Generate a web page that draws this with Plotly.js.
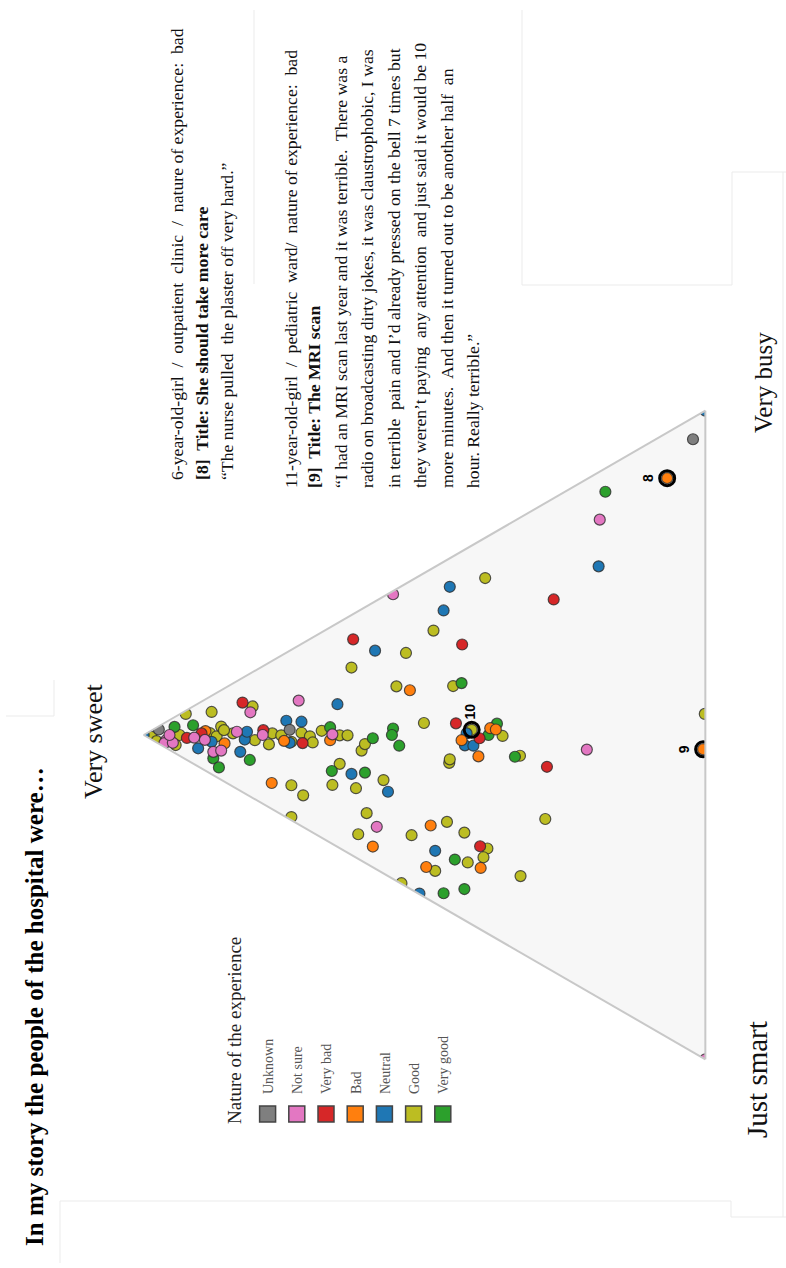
<!DOCTYPE html>
<html>
<head>
<meta charset="utf-8">
<script src="https://cdn.plot.ly/plotly-3.0.1.min.js"></script>
<style>
  html, body { margin: 0; padding: 0; background: #fff; overflow: hidden; width: 786px; height: 1268px; }
  /* the chart is laid out landscape and turned a quarter turn to read upwards */
  #chart { position: absolute; left: 0; top: 0; width: 1268px; height: 786px;
           transform-origin: 0 0; transform: translate(0px, 1268px) rotate(-90deg); }
</style>
</head>
<body>
<div id="chart"></div>
<script>
// ---- data: how the hospital people were described (sweet / smart / busy shares, %) ----
const categories = ['Unknown', 'Not sure', 'Very bad', 'Bad', 'Neutral', 'Good', 'Very good'];
const categoryColors = ['#7f7f7f', '#e377c2', '#d62728', '#ff7f0e', '#1f77b4', '#bcbd22', '#2ca02c'];

const unknownSweet = [97.3, 74.0, 2.2];
const unknownSmart = [0.5, 12.2, 3.3];
const unknownBusy  = [2.2, 13.8, 94.5];

const notSureSweet = [96.0, 96.3, 94.8, 95.4, 81.0, 72.4, 91.0, 89.1, 87.6, 86.2, 83.4, 78.8, 66.4, 55.6, 58.5, 18.8, 21.1, 0];
const notSureSmart = [2.8, 3.1, 3.8, 2.3, 6.0, 8.5, 4.9, 6.2, 8.8, 9.3, 7.8, 10.6, 16.7, 0.5, 34.9, 7.4, 41.7, 100];
const notSureBusy  = [1.2, 0.6, 1.4, 2.3, 13.0, 19.1, 4.1, 4.7, 3.6, 4.5, 8.8, 10.6, 16.9, 43.9, 6.6, 73.8, 37.2, 0];

const veryBadSweet = [92.3, 89.7, 82.4, 78.7, 71.7, 62.7, 43.3, 44.4, 40.2, 27.0, 28.2, 40.1];
const veryBadSmart = [4.3, 4.9, 3.8, 9.9, 15.4, 3.9, 14.4, 26.0, 30.4, 15.6, 40.8, 47.1];
const veryBadBusy  = [3.4, 5.4, 13.8, 11.4, 12.9, 33.4, 42.3, 29.6, 29.4, 57.4, 31.0, 12.8];

const badSweet = [89.0, 85.6, 75.0, 66.8, 77.2, 52.6, 59.2, 48.9, 49.7, 40.0, 43.4, 38.3, 37.3, 40.4, 6.8, 0.4];
const badSmart = [4.9, 8.5, 13.4, 17.4, 18.8, 16.8, 37.6, 39.5, 45.5, 50.5, 29.1, 29.8, 30.5, 33.1, 7.0, 52.0];
const badBusy  = [6.1, 5.9, 11.6, 15.8, 4.0, 30.6, 3.2, 11.6, 4.8, 9.5, 27.5, 31.9, 32.2, 26.5, 86.2, 47.6];

const neutralSweet = [100, 87.9, 90.3, 82.8, 82.0, 81.6, 74.6, 71.9, 74.0, 65.5, 63.0, 56.5, 58.8, 45.5, 46.6, 48.1, 50.9, 42.8, 41.3, 42.5, 19.0, 0];
const neutralSmart = [0, 7.1, 6.9, 11.2, 9.7, 8.7, 10.5, 12.0, 14.2, 12.5, 24.5, 30.5, 7.6, 4.4, 7.5, 43.8, 49.0, 30.2, 31.0, 28.5, 14.5, 0];
const neutralBusy  = [0, 5.0, 2.8, 6.0, 8.3, 9.7, 14.9, 16.1, 11.8, 22.0, 12.5, 13.0, 33.6, 50.1, 45.9, 8.1, 0.1, 27.0, 27.7, 29.0, 66.5, 100];

const goodSweet = [98.6, 93.6, 92.5, 87.9, 80.6, 88.2, 87.0, 86.2, 84.1, 80.2, 77.7, 77.1, 75.5, 73.7, 71.9, 70.4, 69.9, 68.3, 65.1, 63.7,
                   61.2, 60.6, 65.1, 73.7, 71.6, 66.4, 62.2, 73.7, 60.3, 61.8, 57.3, 63.0, 53.3, 55.0, 48.4, 44.9, 50.1, 39.2, 45.6, 52.3,
                   46.0, 42.9, 42.3, 38.8, 39.5, 48.1, 54.1, 28.5, 32.9, 45.5, 41.6, 36.1, 33.0, 0.1, 97.7, 94.3, 85.7];
const goodSmart = [1.0, 3.2, 0.5, 2.5, 5.3, 5.6, 6.7, 5.6, 7.7, 10.7, 12.6, 11.2, 12.3, 14.2, 13.7, 15.0, 16.2, 15.2, 17.5, 18.2,
                   21.8, 21.1, 21.9, 20.9, 23.5, 24.5, 27.1, 25.8, 31.9, 34.4, 28.3, 8.1, 10.7, 15.0, 9.7, 20.0, 23.1, 6.2, 31.5, 39.3,
                   40.4, 43.6, 48.5, 48.1, 49.1, 46.9, 45.8, 48.7, 55.3, 31.0, 28.4, 32.1, 36.7, 46.7, 2.1, 4.4, 6.4];
const goodBusy  = [0.4, 3.2, 7.0, 9.6, 14.1, 6.2, 6.3, 8.2, 8.2, 9.1, 9.7, 11.7, 12.2, 12.1, 14.4, 14.6, 13.9, 16.5, 17.4, 18.1,
                   17.0, 18.3, 13.0, 5.4, 4.9, 9.1, 10.7, 0.5, 7.8, 3.8, 14.4, 28.9, 36.0, 30.0, 41.9, 35.1, 26.8, 54.6, 22.9, 8.4,
                   13.6, 13.5, 9.2, 13.1, 11.4, 5.0, 0.1, 22.8, 11.8, 23.5, 30.0, 31.8, 30.3, 53.2, 0.2, 1.3, 7.9];

const veryGoodSweet = [94.5, 87.6, 86.6, 81.1, 66.8, 66.5, 60.6, 59.2, 55.6, 55.8, 54.5, 43.4, 37.1, 38.6, 33.9, 44.6, 46.6, 42.9, 17.8, 91.2];
const veryGoodSmart = [1.5, 9.8, 11.7, 13.3, 15.4, 22.3, 25.5, 20.9, 21.2, 22.1, 24.4, 20.3, 29.7, 30.7, 36.4, 46.9, 51.1, 52.3, 3.6, 2.9];
const veryGoodBusy  = [4.0, 2.6, 1.7, 5.6, 17.8, 11.2, 13.9, 19.9, 23.2, 22.1, 21.1, 36.3, 33.2, 30.7, 29.7, 8.5, 2.3, 4.8, 78.6, 5.9];

// stories quoted beside the chart
const storyIds   = ['8', '9', '10'];
const storySweet = [6.8, 0.4, 41.6];
const storySmart = [7.0, 52.0, 28.4];
const storyBusy  = [86.2, 47.6, 30.0];

const vertexLabels = ['Very sweet', 'Very busy', 'Just smart'];
const chartTitle = 'In my story the people of the hospital were…';
const legendTitle = 'Nature of the experience';

const story8Lines = [
  '6-year-old-girl  /  outpatient  clinic  /  nature of experience:  bad',
  '<b>[8]  Title: She should take more care</b>',
  '“The nurse pulled  the plaster off very hard.”'
];
const story9Lines = [
  '11-year-old-girl  /  pediatric  ward/  nature of experience:  bad',
  '<b>[9]  Title: The MRI scan</b>',
  '“I had an MRI scan last year and it was terrible.  There was a',
  'radio on broadcasting dirty jokes, it was claustrophobic, I was',
  'in terrible  pain and I’d already pressed on the bell 7 times but',
  'they weren’t paying  any attention  and just said it would be 10',
  'more minutes.  And then it turned out to be another half  an',
  'hour. Really terrible.”'
];

// ---- layout helpers: page pixel (x right, y down) -> paper coords of the turned frame ----
const W = 1268, H = 786;
function paperX(pageY) { return (W - pageY) / W; }
function paperY(pageX) { return 1 - pageX / H; }

const SERIF = '"Liberation Serif", "Times New Roman", serif';

const seriesByCategory = {
  'Unknown':   [unknownSweet, unknownSmart, unknownBusy],
  'Not sure':  [notSureSweet, notSureSmart, notSureBusy],
  'Very bad':  [veryBadSweet, veryBadSmart, veryBadBusy],
  'Bad':       [badSweet, badSmart, badBusy],
  'Neutral':   [neutralSweet, neutralSmart, neutralBusy],
  'Good':      [goodSweet, goodSmart, goodBusy],
  'Very good': [veryGoodSweet, veryGoodSmart, veryGoodBusy]
};

const traces = [];

// legend entries (square swatches, no points of their own)
categories.forEach((cat, i) => {
  traces.push({
    type: 'scatterternary', mode: 'markers', name: cat, legendgroup: cat, showlegend: true,
    a: [null], b: [null], c: [null],
    marker: { symbol: 'square', size: 16, color: categoryColors[i], line: { color: '#444', width: 1.5 } }
  });
});

// the stories, one dot each
const drawOrder = ['Good', 'Very good', 'Neutral', 'Bad', 'Very bad', 'Not sure', 'Unknown'];
drawOrder.forEach(cat => {
  const [sw, sm, bu] = seriesByCategory[cat];
  traces.push({
    type: 'scatterternary', mode: 'markers', name: cat, legendgroup: cat, showlegend: false,
    a: sw, b: sm, c: bu,
    marker: { symbol: 'circle', size: 11, color: categoryColors[categories.indexOf(cat)],
              line: { color: 'rgba(45,45,45,0.8)', width: 1.2 } }
  });
});

// highlighted stories
traces.push({
  type: 'scatterternary', mode: 'markers+text', showlegend: false,
  a: storySweet, b: storySmart, c: storyBusy,
  text: storyIds,
  textposition: ['top center', 'top center', 'middle right'],
  textfont: { family: '"Liberation Sans", Arial, sans-serif', size: 14, color: '#000', weight: 'bold' },
  marker: { symbol: 'circle-open', size: 15, color: '#000', line: { width: 3, color: '#000' } }
});

const axisStyle = {
  showticklabels: false, ticks: '', showgrid: false, showline: true,
  linecolor: '#c8c8c8', linewidth: 2, title: { text: '' }, min: 0
};

const annotations = [];
function note(text, pageX, pageY, size, opts) {
  annotations.push(Object.assign({
    text: text, xref: 'paper', yref: 'paper', x: paperX(pageY), y: paperY(pageX),
    xanchor: 'left', yanchor: 'middle', showarrow: false,
    font: { family: SERIF, size: size, color: '#111' }
  }, opts || {}));
}

// chart title
note('<b>' + chartTitle + '</b>', 35, 1248, 25, { font: { family: SERIF, size: 25, color: '#000' } });

// vertex labels
note(vertexLabels[0], 93, 741, 26, { xanchor: 'center' });
note(vertexLabels[1], 763, 383, 25, { xanchor: 'center' });
note(vertexLabels[2], 757, 1080, 29, { xanchor: 'center' });

// legend heading
note(legendTitle, 235, 1126, 19, { font: { family: SERIF, size: 19, color: '#222' } });

// story texts
const story8X = [177, 202, 227];
story8Lines.forEach((t, i) => note(t, story8X[i], 482, 17.7));
const story9X = [291, 314, 341, 367, 394, 420, 447, 473];
story9Lines.forEach((t, i) => note(t, story9X[i], 490, 17.7));

// faint frame lines around the pasted panels
const frameLines = [
  [254, 10, 254, 284],
  [522, 10, 522, 285], [522, 285, 732, 285], [732, 172, 732, 285], [732, 172, 786, 172],
  [783, 172, 783, 1217],
  [60, 1201, 731, 1201], [731, 1201, 731, 1217], [731, 1217, 786, 1217],
  [54, 680, 54, 716], [6, 716, 54, 716], [60, 1201, 60, 1263]
];
const shapes = frameLines.map(([x0, y0, x1, y1]) => ({
  type: 'line', xref: 'paper', yref: 'paper',
  x0: paperX(y0), y0: paperY(x0), x1: paperX(y1), y1: paperY(x1),
  line: { color: '#ebebeb', width: 1 }, layer: 'below'
}));

const layout = {
  width: W, height: H,
  margin: { l: 0, r: 0, t: 0, b: 0, pad: 0 },
  paper_bgcolor: '#ffffff',
  font: { family: SERIF, color: '#222' },
  showlegend: true,
  legend: {
    x: paperX(1134), y: paperY(252), xanchor: 'left', yanchor: 'top',
    orientation: 'v', bgcolor: 'rgba(0,0,0,0)', borderwidth: 0,
    tracegroupgap: 8, traceorder: 'grouped',
    font: { family: SERIF, size: 14, color: '#555' }
  },
  ternary: {
    sum: 100,
    domain: { x: [208.7 / W, 857.3 / W], y: [1 - 706.5 / H, 1 - 142.5 / H] },
    bgcolor: '#f7f7f7',
    aaxis: axisStyle, baxis: axisStyle, caxis: axisStyle
  },
  annotations: annotations,
  shapes: shapes
};

Plotly.newPlot('chart', traces, layout, { staticPlot: true, displayModeBar: false });
</script>
</body>
</html>
